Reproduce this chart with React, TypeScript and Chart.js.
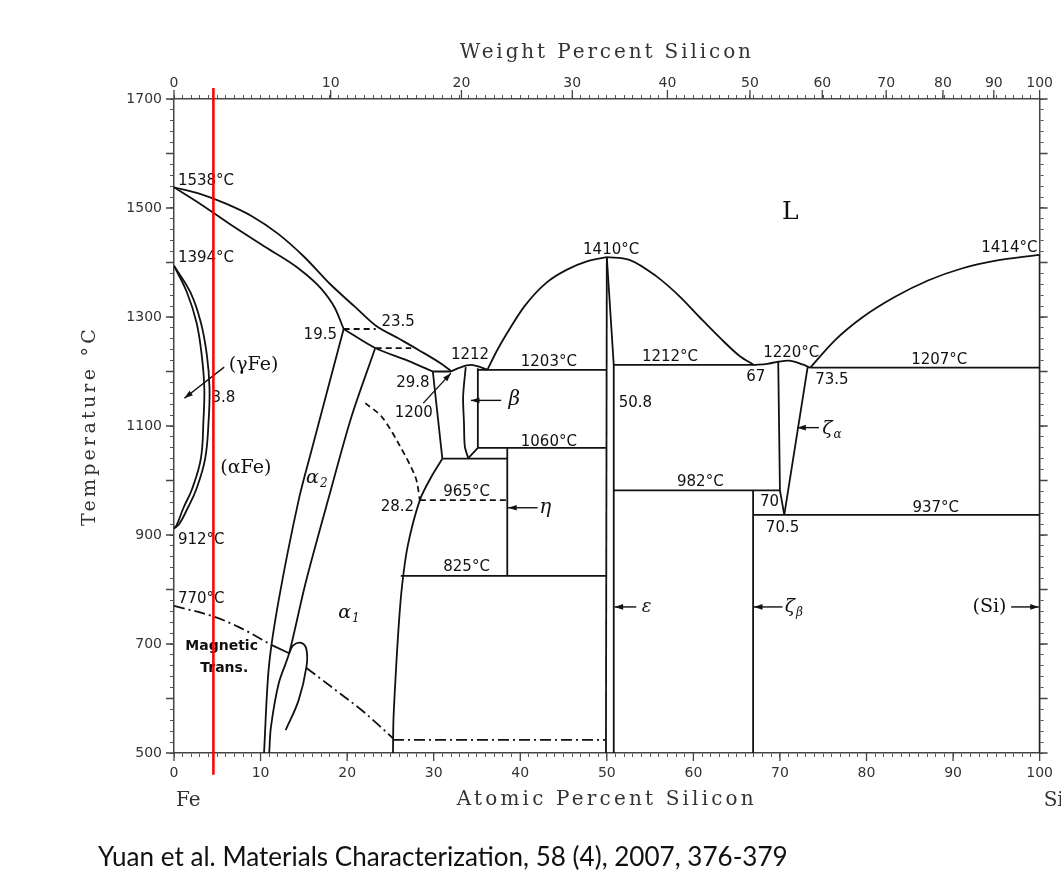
import React, { useEffect, useRef } from 'react';
import { Chart, registerables } from 'chart.js';

Chart.register(...registerables);

type P = [number, number];

// ---------- Axis tick labels ----------
const atTickLabels = [0, 10, 20, 30, 40, 50, 60, 70, 80, 90, 100];
const wtTickLabels = [0, 10, 20, 30, 40, 50, 60, 70, 80, 90, 100];
const tempTickLabels = [500, 700, 900, 1100, 1300, 1500, 1700];

// ---------- Phase boundaries (atomic % Si, °C) ----------
const liquidusFe: P[] = [[0, 1538], [3, 1526], [6, 1508], [9, 1485], [12, 1453], [15, 1411], [18, 1361], [20.95, 1318], [23.25, 1285], [25.9, 1261], [28.2, 1240], [31.0, 1213], [32.0, 1201]];
const solidusFe: P[] = [[0, 1538], [3.0, 1508], [6.7, 1468], [10.6, 1428], [14.4, 1389], [17.0, 1352], [18.6, 1316], [19.6, 1278]];
const solidusA2: P[] = [[19.6, 1278], [23.25, 1243], [27.0, 1220], [29.9, 1200]];
const gammaInner: P[] = [[0, 1394], [1.5, 1345], [2.6, 1290], [3.2, 1230], [3.5, 1170], [3.4, 1110], [3.1, 1040], [2.1, 985], [1.1, 950], [0.3, 918], [0, 912]];
const gammaOuter: P[] = [[0, 1394], [1.9, 1345], [3.1, 1290], [3.8, 1230], [4.1, 1170], [4.0, 1110], [3.6, 1040], [2.6, 985], [1.6, 950], [0.6, 920], [0, 912]];
const alpha2Left: P[] = [[19.6, 1278], [15.9, 1056], [14.4, 964], [12.1, 781], [10.96, 658], [10.4, 500]];
const alpha2Right: P[] = [[23.25, 1243], [20.5, 1117], [17.9, 970], [15.2, 812], [13.3, 683], [12.1, 628], [11.2, 548], [11.0, 500]];
const alpha2Loop: P[] = [[13.3, 683], [13.8, 698], [14.7, 702], [15.3, 690], [15.3, 658], [14.4, 597], [12.9, 542]];
const magneticA: P[] = [[0, 770], [4.65, 750], [7.5, 731], [11.3, 698]];
const magneticLink: P[] = [[11.3, 698], [13.3, 683]];
const magneticB: P[] = [[15.3, 656], [18.2, 621], [22.1, 573], [25.3, 527]];
const magneticC: P[] = [[25.3, 524], [49.8, 524]];
const do3Boundary: P[] = [[25.3, 500], [25.35, 560], [25.6, 640], [25.9, 720], [26.3, 800], [27.0, 880], [28.4, 964], [29.7, 1006], [31.0, 1040]];
const a2DashedCurve: P[] = [[22.1, 1142], [24.0, 1117], [25.9, 1069], [27.9, 1006], [28.4, 964]];
const tie1276: P[] = [[19.6, 1278], [23.3, 1278]];
const tie1243: P[] = [[23.3, 1243], [27.4, 1243]];
const iso965: P[] = [[28.4, 964], [38.5, 964]];
const iso1200: P[] = [[29.9, 1200], [32.0, 1200]];
const leftOfBeta: P[] = [[29.9, 1200], [31.0, 1040]];
const iso1040: P[] = [[31.0, 1040], [38.5, 1040]];
const betaLeft: P[] = [[33.7, 1208], [33.4, 1154], [33.5, 1105], [33.6, 1062], [34.0, 1041]];
const betaBottom: P[] = [[34.0, 1041], [35.1, 1060]];
const betaRight: P[] = [[35.1, 1206], [35.1, 1060]];
const arc1212: P[] = [[32.0, 1200], [33.0, 1207], [34.3, 1212], [35.4, 1208], [36.2, 1203]];
const iso1203: P[] = [[35.1, 1203], [49.9, 1203]];
const iso1060: P[] = [[35.1, 1060], [49.9, 1060]];
const etaLine: P[] = [[38.5, 1060], [38.5, 825]];
const iso825: P[] = [[26.2, 825], [49.9, 825]];
const liquidusEpsL: P[] = [[36.2, 1203], [37.3, 1238], [38.5, 1271], [40.5, 1320], [43.1, 1364], [45.4, 1387], [47.7, 1402], [50, 1410]];
const liquidusEpsR: P[] = [[50, 1410], [52.6, 1405], [55.7, 1375], [58.4, 1338], [60.7, 1300], [63.0, 1263], [65.3, 1229], [67, 1212]];
const epsLeft: P[] = [[50, 1410], [49.9, 500]];
const epsRight: P[] = [[50, 1410], [50.8, 1212], [50.8, 500]];
const iso1212: P[] = [[50.8, 1212], [67, 1212]];
const iso982: P[] = [[50.8, 982], [70, 982]];
const zetaBeta: P[] = [[66.9, 982], [66.9, 500]];
const iso937: P[] = [[66.9, 937], [100, 937]];
const arc1220: P[] = [[67, 1212], [68.5, 1214], [69.8, 1218], [71.0, 1220], [72.6, 1213], [73.5, 1207]];
const zetaAlphaLeft: P[] = [[69.8, 1218], [70.0, 982], [70.5, 937]];
const zetaAlphaRight: P[] = [[73.2, 1208], [70.5, 937]];
const iso1207: P[] = [[73.5, 1207], [100, 1207]];
const liquidusSi: P[] = [[73.5, 1207], [76.4, 1258], [79.5, 1299], [83.3, 1337], [87.1, 1367], [91, 1389], [94.8, 1403], [100, 1414]];
const siSolvus: P[] = [[100, 1414], [100, 500]];
const redMarker: P[] = [[4.55, 1720], [4.55, 460]];

// ---------- Annotations ----------
const numLabels: [string, number, number, CanvasTextAlign?][] = [
  ['1538°C', 0.45, 1549, 'left'], ['1394°C', 0.45, 1408, 'left'], ['912°C', 0.45, 891, 'left'], ['770°C', 0.45, 783, 'left'],
  ['3.8', 5.7, 1151], ['19.5', 16.9, 1267], ['23.5', 25.9, 1291], ['29.8', 27.6, 1179], ['1200', 27.7, 1124],
  ['1212', 34.2, 1230], ['1203°C', 43.3, 1217], ['1060°C', 43.3, 1071], ['965°C', 33.8, 979], ['28.2', 25.8, 951],
  ['825°C', 33.8, 841], ['1410°C', 50.5, 1423], ['50.8', 53.3, 1142], ['1212°C', 57.3, 1227], ['982°C', 60.8, 997],
  ['1220°C', 71.3, 1234], ['67', 67.2, 1190], ['73.5', 76.0, 1184], ['70', 68.8, 960], ['70.5', 70.3, 913],
  ['937°C', 88.0, 950], ['1207°C', 88.4, 1221], ['1414°C', 96.5, 1427],
];
const phaseLabels: [string, string, number, number, string][] = [
  ['(γFe)', '', 9.2, 1212, '19px "DejaVu Serif"'],
  ['(αFe)', '', 8.3, 1023, '19px "DejaVu Serif"'],
  ['α', '2', 16.5, 1005, 'italic 19px "DejaVu Serif"'],
  ['α', '1', 20.2, 757, 'italic 19px "DejaVu Serif"'],
  ['β', '', 39.3, 1148, 'italic 20px "DejaVu Serif"'],
  ['η', '', 42.9, 950, 'italic 20px "DejaVu Serif"'],
  ['ε', '', 54.6, 768, 'italic 18px "DejaVu Serif"'],
  ['ζ', 'β', 71.6, 768, 'italic 19px "DejaVu Serif"'],
  ['ζ', 'α', 76.0, 1095, 'italic 19px "DejaVu Serif"'],
  ['(Si)', '', 94.2, 768, '19px "DejaVu Serif"'],
  ['L', '', 71.2, 1491, '25px "DejaVu Serif"'],
];
const magLabels: [string, number, number][] = [['Magnetic', 5.5, 695], ['Trans.', 5.8, 656]];
const arrows: [P, P][] = [
  [[5.8, 1208], [1.2, 1151]],
  [[37.8, 1147], [34.3, 1147]],
  [[42.0, 950], [38.6, 950]],
  [[53.4, 768], [50.9, 768]],
  [[70.3, 768], [67.0, 768]],
  [[96.7, 768], [99.9, 768]],
  [[74.5, 1097], [72.0, 1097]],
  [[28.8, 1142], [32.0, 1197]],
];
const caption = 'Yuan et al. Materials Characterization, 58 (4), 2007, 376-379';

const M_SI = 28.0855;
const M_FE = 55.845;
const wtToAt = (w: number) => (w >= 100 ? 100 : (100 * (w / M_SI)) / (w / M_SI + (100 - w) / M_FE));

type Curve = { pts: P[]; tension?: number; dash?: number[]; mono?: boolean };
const DASH = [6, 4];
const DASHDOT = [11, 4, 2, 4];
const curves: Curve[] = [
  { pts: liquidusFe, mono: true }, { pts: solidusFe, mono: true }, { pts: solidusA2, mono: true },
  { pts: gammaInner, tension: 0.4 }, { pts: gammaOuter, tension: 0.4 },
  { pts: alpha2Left, tension: 0.3 }, { pts: alpha2Right, tension: 0.3 }, { pts: alpha2Loop, tension: 0.4 },
  { pts: magneticA, mono: true, dash: DASHDOT }, { pts: magneticLink }, { pts: magneticB, mono: true, dash: DASHDOT }, { pts: magneticC, dash: DASHDOT },
  { pts: do3Boundary, tension: 0.3 }, { pts: a2DashedCurve, tension: 0.3, dash: DASH },
  { pts: tie1276, dash: DASH }, { pts: tie1243, dash: DASH }, { pts: iso965, dash: DASH },
  { pts: iso1200 }, { pts: leftOfBeta }, { pts: iso1040 },
  { pts: betaLeft, tension: 0.3 }, { pts: betaBottom }, { pts: betaRight }, { pts: arc1212, mono: true },
  { pts: iso1203 }, { pts: iso1060 }, { pts: etaLine }, { pts: iso825 },
  { pts: liquidusEpsL, mono: true }, { pts: liquidusEpsR, mono: true },
  { pts: epsLeft }, { pts: epsRight }, { pts: iso1212 }, { pts: iso982 }, { pts: zetaBeta }, { pts: iso937 },
  { pts: arc1220, mono: true }, { pts: zetaAlphaLeft }, { pts: zetaAlphaRight }, { pts: iso1207 },
  { pts: liquidusSi, mono: true }, { pts: siSolvus },
];

const toXY = (pts: P[]) => pts.map(([x, y]) => ({ x, y }));

function drawArrow(ctx: CanvasRenderingContext2D, x1: number, y1: number, x2: number, y2: number, head = 9) {
  ctx.beginPath();
  ctx.moveTo(x1, y1);
  ctx.lineTo(x2, y2);
  ctx.stroke();
  const a = Math.atan2(y2 - y1, x2 - x1);
  ctx.beginPath();
  ctx.moveTo(x2, y2);
  ctx.lineTo(x2 - head * Math.cos(a - 0.32), y2 - head * Math.sin(a - 0.32));
  ctx.lineTo(x2 - head * Math.cos(a + 0.32), y2 - head * Math.sin(a + 0.32));
  ctx.closePath();
  ctx.fill();
}

function spacedText(ctx: CanvasRenderingContext2D, text: string, x: number, y: number, target: number) {
  (ctx as any).letterSpacing = '0px';
  const w0 = ctx.measureText(text).width;
  const ls = Math.max(0, (target - w0) / text.length);
  (ctx as any).letterSpacing = `${ls}px`;
  ctx.textAlign = 'left';
  ctx.fillText(text, x - target / 2, y);
  (ctx as any).letterSpacing = '0px';
}

const annotPlugin = {
  id: 'annot',
  beforeDatasetsDraw(chart: any) {
    const { ctx } = chart;
    const xs = chart.scales.x;
    const ys = chart.scales.y;
    const px = (v: number) => xs.getPixelForValue(v);
    const py = (v: number) => ys.getPixelForValue(v);
    ctx.save();
    ctx.fillStyle = '#111';
    ctx.strokeStyle = '#111';
    ctx.textBaseline = 'middle';
    ctx.font = '15px "DejaVu Sans"';
    for (const [t, x, T, al] of numLabels) {
      ctx.textAlign = al ?? 'center';
      ctx.fillText(t, px(x), py(T));
    }
    ctx.font = 'bold 14px "DejaVu Sans"';
    ctx.textAlign = 'center';
    for (const [t, x, T] of magLabels) ctx.fillText(t, px(x), py(T));
    for (const [t, sub, x, T, font] of phaseLabels) {
      ctx.font = font;
      const w = ctx.measureText(t).width;
      let sw = 0;
      const subFont = 'italic 12px "DejaVu Serif"';
      if (sub) {
        ctx.font = subFont;
        sw = ctx.measureText(sub).width + 1;
      }
      const start = px(x) - (w + sw) / 2;
      ctx.font = font;
      ctx.textAlign = 'left';
      ctx.fillText(t, start, py(T));
      if (sub) {
        ctx.font = subFont;
        ctx.fillText(sub, start + w + 1, py(T) + 6);
      }
    }
    ctx.lineWidth = 1.4;
    for (const [a, b] of arrows) drawArrow(ctx, px(a[0]), py(a[1]), px(b[0]), py(b[1]));
    ctx.restore();
  },
  afterDraw(chart: any) {
    const { ctx, chartArea } = chart;
    const xs = chart.scales.x;
    const ys = chart.scales.y;
    ctx.save();
    // longer major ticks
    ctx.strokeStyle = '#444';
    ctx.lineWidth = 1.3;
    ctx.beginPath();
    for (const v of atTickLabels) {
      const x = xs.getPixelForValue(v);
      ctx.moveTo(x, chartArea.bottom);
      ctx.lineTo(x, chartArea.bottom + 8);
    }
    for (const w of wtTickLabels) {
      const x = xs.getPixelForValue(wtToAt(w));
      ctx.moveTo(x, chartArea.top);
      ctx.lineTo(x, chartArea.top - 9);
    }
    for (let T = 500; T <= 1700; T += 100) {
      const y = ys.getPixelForValue(T);
      ctx.moveTo(chartArea.left - 8, y);
      ctx.lineTo(chartArea.left, y);
      ctx.moveTo(chartArea.right, y);
      ctx.lineTo(chartArea.right + 8, y);
    }
    ctx.stroke();

    // titles
    ctx.fillStyle = '#333';
    ctx.textBaseline = 'middle';
    const cx = (chartArea.left + chartArea.right) / 2;
    ctx.font = '20px "DejaVu Serif"';
    spacedText(ctx, 'Weight Percent Silicon', cx, chartArea.top - 46, 294);
    spacedText(ctx, 'Atomic Percent Silicon', cx, chartArea.bottom + 47, 300);
    ctx.save();
    ctx.translate(chartArea.left - 84, (chartArea.top + chartArea.bottom) / 2);
    ctx.rotate(-Math.PI / 2);
    ctx.font = '19px "DejaVu Serif"';
    spacedText(ctx, 'Temperature °C', 0, 0, 200);
    ctx.restore();
    ctx.font = '20px "DejaVu Serif"';
    ctx.textAlign = 'left';
    ctx.fillText('Fe', chartArea.left + 2, chartArea.bottom + 48);
    ctx.fillText('Si', chartArea.right + 4, chartArea.bottom + 48);

    // caption
    ctx.fillStyle = '#111';
    ctx.font = '22px Lato';
    const w0 = ctx.measureText(caption).width;
    const size = (22 * 690) / w0;
    ctx.font = `${size}px Lato`;
    ctx.textAlign = 'left';
    ctx.fillText(caption, chartArea.left - 76, chartArea.bottom + 105);
    ctx.restore();
  },
};

export default function App() {
  const ref = useRef<HTMLCanvasElement>(null);
  useEffect(() => {
    const canvas = ref.current;
    if (!canvas) return;
    const lineDatasets = curves.map((c) => ({
      data: toXY(c.pts),
      borderColor: '#111',
      borderWidth: 1.8,
      borderDash: c.dash ?? [],
      tension: c.mono ? 0.4 : c.tension ?? 0,
      cubicInterpolationMode: c.mono ? 'monotone' : 'default',
      showLine: true,
      pointRadius: 0,
      pointHoverRadius: 0,
      fill: false,
    }));
    const redDataset = {
      data: toXY(redMarker),
      borderColor: '#ff0000',
      borderWidth: 2.5,
      tension: 0,
      showLine: true,
      pointRadius: 0,
      pointHoverRadius: 0,
      fill: false,
      clip: false as any,
      order: -1,
    };
    const grid = { drawOnChartArea: false, drawTicks: true, tickLength: 4, color: '#555', lineWidth: 1 };
    const border = { display: true, color: '#444', width: 1.5 };
    const tickFont = { family: 'DejaVu Sans', size: 14 };
    const chart = new Chart(canvas, {
      type: 'scatter',
      data: { datasets: [redDataset, ...lineDatasets] as any },
      plugins: [annotPlugin],
      options: {
        responsive: false,
        animation: false,
        devicePixelRatio: 1,
        events: [],
        layout: { padding: 0, autoPadding: false } as any,
        plugins: { legend: { display: false }, tooltip: { enabled: false } },
        scales: {
          x: {
            type: 'linear',
            position: 'bottom',
            min: 0,
            max: 100,
            afterFit: (s: any) => { s.height = 129; },
            ticks: {
              stepSize: 1, maxTicksLimit: 1000, autoSkip: false, maxRotation: 0, padding: 8, color: '#333', font: tickFont,
              callback: (v: any) => (atTickLabels.includes(Number(v)) ? String(v) : ''),
            },
            grid, border,
          },
          xTop: {
            type: 'linear',
            position: 'top',
            min: 0,
            max: 100,
            afterFit: (s: any) => { s.height = 99; },
            afterBuildTicks: (s: any) => {
              const t: any[] = [];
              for (let v = 0; v <= 100; v += 1) t.push({ value: v });
              for (const w of wtTickLabels) t.push({ value: wtToAt(w), wt: w });
              s.ticks = t;
            },
            ticks: {
              autoSkip: false, maxRotation: 0, padding: 3, color: '#333', font: tickFont,
              callback: (_v: any, i: number, ticks: any[]) => (ticks[i].wt !== undefined ? String(ticks[i].wt) : ''),
            },
            grid, border,
          },
          y: {
            type: 'linear',
            position: 'left',
            min: 500,
            max: 1700,
            afterFit: (s: any) => { s.width = 174; },
            ticks: {
              stepSize: 20, maxTicksLimit: 1000, autoSkip: false, padding: 8, color: '#333', font: tickFont,
              callback: (v: any) => (tempTickLabels.includes(Number(v)) ? String(v) : ''),
            },
            grid, border,
          },
          y2: {
            type: 'linear',
            position: 'right',
            min: 500,
            max: 1700,
            afterFit: (s: any) => { s.width = 16; },
            ticks: { display: false, stepSize: 20, maxTicksLimit: 1000 },
            grid, border,
          },
        } as any,
      },
    });
    return () => chart.destroy();
  }, []);
  return (
    <div style={{ position: 'absolute', left: 0, top: 0, width: 1061, height: 882, background: '#fff' }}>
      <canvas ref={ref} width={1061} height={882} style={{ display: 'block', width: 1061, height: 882 }} />
    </div>
  );
}
